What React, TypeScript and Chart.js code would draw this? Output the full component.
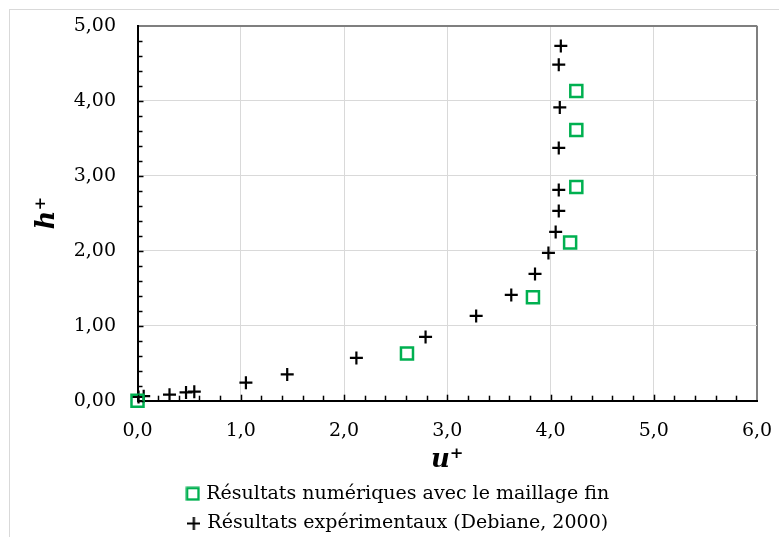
import React, { useEffect, useRef } from 'react';
import { Chart, registerables } from 'chart.js';

Chart.register(...registerables);

// Numerical results (fine mesh)
const numU = [0, 2.61, 3.83, 4.19, 4.25, 4.25, 4.25];
const numH = [0, 0.63, 1.38, 2.11, 2.85, 3.61, 4.13];

// Experimental results (Debiane, 2000)
const expU = [0.01, 0.06, 0.31, 0.47, 0.55, 1.05, 1.45, 2.12, 2.79, 3.28, 3.62, 3.85, 3.98, 4.05, 4.08, 4.08, 4.08, 4.09, 4.08, 4.10];
const expH = [0.05, 0.06, 0.08, 0.11, 0.12, 0.24, 0.35, 0.57, 0.85, 1.13, 1.41, 1.69, 1.97, 2.25, 2.53, 2.81, 3.37, 3.91, 4.48, 4.73];

const seriesLabels = ['Résultats numériques avec le maillage fin', 'Résultats expérimentaux (Debiane, 2000)'];
const xTitle = 'u⁺';
const yTitle = 'h⁺';
const xMin = 0, xMax = 6, xStep = 1;
const yMin = 0, yMax = 5, yStep = 1;

const FONT = "'DejaVu Serif', serif";
const GREEN = '#00b050';

function makeSquareIcon(): HTMLCanvasElement {
  const c = document.createElement('canvas');
  c.width = 15; c.height = 15;
  const g = c.getContext('2d')!;
  g.strokeStyle = GREEN;
  g.lineWidth = 2.5;
  g.strokeRect(1.75, 1.75, 11.5, 11.5);
  return c;
}

function makeCrossIcon(): HTMLCanvasElement {
  const c = document.createElement('canvas');
  c.width = 13; c.height = 13;
  const g = c.getContext('2d')!;
  g.strokeStyle = '#000';
  g.lineWidth = 2.2;
  g.beginPath();
  g.moveTo(0, 6.5); g.lineTo(13, 6.5);
  g.moveTo(6.5, 0); g.lineTo(6.5, 13);
  g.stroke();
  return c;
}

export default function App() {
  const ref = useRef<HTMLCanvasElement>(null);

  useEffect(() => {
    const canvas = ref.current;
    if (!canvas) return;

    const legendIcons = [makeSquareIcon(), makeCrossIcon()];

    const decor = {
      id: 'decor',
      beforeDraw(chart: any) {
        const ctx = chart.ctx;
        ctx.save();
        ctx.strokeStyle = '#d9d9d9';
        ctx.lineWidth = 1;
        ctx.strokeRect(9.5, 9.5, 1000, 1000);
        ctx.restore();
      },
      afterDraw(chart: any) {
        const ctx = chart.ctx;
        const x = chart.scales.x;
        const y = chart.scales.y;
        ctx.save();
        ctx.strokeStyle = '#000';
        ctx.lineWidth = 1.5;
        const nx = Math.round((xMax - xMin) / 0.2);
        for (let i = 0; i < nx; i++) {
          const px = Math.round(x.getPixelForValue(xMin + i * 0.2)) + 0.5;
          const len = i % 5 === 0 ? 6 : 5;
          ctx.beginPath();
          ctx.moveTo(px, y.bottom);
          ctx.lineTo(px, y.bottom - len);
          ctx.stroke();
        }
        const ny = Math.round((yMax - yMin) / 0.2);
        for (let i = 0; i < ny; i++) {
          const py = Math.round(y.getPixelForValue(yMin + i * 0.2)) + 0.5;
          const len = i % 5 === 0 ? 6 : 5;
          ctx.beginPath();
          ctx.moveTo(x.left, py);
          ctx.lineTo(x.left + len, py);
          ctx.stroke();
        }
        ctx.restore();
      },
    };

    const chart = new Chart(canvas, {
      type: 'scatter',
      data: {
        datasets: [
          {
            label: seriesLabels[0],
            data: numU.map((u, i) => ({ x: u, y: numH[i] })),
            pointStyle: 'rect',
            pointRadius: 8.5,
            borderColor: GREEN,
            backgroundColor: 'rgba(0,0,0,0)',
            pointBorderColor: GREEN,
            pointBackgroundColor: 'rgba(0,0,0,0)',
            borderWidth: 2.5,
            pointBorderWidth: 2.5,
            clip: false,
          },
          {
            label: seriesLabels[1],
            data: expU.map((u, i) => ({ x: u, y: expH[i] })),
            pointStyle: 'cross',
            pointRadius: 6.5,
            borderColor: '#000',
            backgroundColor: '#000',
            pointBorderColor: '#000',
            borderWidth: 2.2,
            pointBorderWidth: 2.2,
            clip: false,
          },
        ],
      },
      options: {
        animation: false,
        responsive: false,
        devicePixelRatio: 1,
        layout: { padding: { left: 41, right: 22, top: 25.7, bottom: 0 } },
        plugins: {
          legend: {
            position: 'bottom',
            labels: {
              usePointStyle: true,
              boxWidth: 8,
              boxHeight: 12,
              padding: 10.7,
              color: '#000',
              font: { family: FONT, size: 19 },
              generateLabels: (ch: any) => {
                const items = Chart.defaults.plugins.legend.labels.generateLabels(ch);
                return items.map((it: any, i: number) => ({ ...it, pointStyle: legendIcons[i] }));
              },
            },
          },
          tooltip: { enabled: false },
        },
        scales: {
          x: {
            type: 'linear',
            min: xMin,
            max: xMax,
            afterFit(s: any) { s.height = 72.9; s.paddingLeft = 0; s.paddingRight = 0; },
            ticks: {
              stepSize: xStep,
              maxRotation: 0,
              color: '#000',
              padding: 19,
              font: { family: FONT, size: 19 },
              callback: (v: any) => Number(v).toFixed(1).replace('.', ','),
            },
            grid: {
              drawTicks: false,
              color: (c: any) => (c.tick && c.tick.value === xMax ? '#7f7f7f' : '#d9d9d9'),
              lineWidth: (c: any) => (c.tick && c.tick.value === xMax ? 2 : 1),
            },
            border: { color: '#000', width: 2 },
            title: {
              display: true,
              text: xTitle,
              color: '#000',
              padding: 0,
              font: { family: FONT, size: 26, weight: 'bold', style: 'italic', lineHeight: 1.0 },
            },
          },
          y: {
            type: 'linear',
            min: yMin,
            max: yMax,
            afterFit(s: any) { s.width = 96.5; s.paddingTop = 0; s.paddingBottom = 0; },
            ticks: {
              stepSize: yStep,
              color: '#000',
              padding: 21.5,
              font: { family: FONT, size: 19 },
              callback: (v: any) => Number(v).toFixed(2).replace('.', ','),
            },
            grid: {
              drawTicks: false,
              color: (c: any) => (c.tick && c.tick.value === yMax ? '#7f7f7f' : '#d9d9d9'),
              lineWidth: (c: any) => (c.tick && c.tick.value === yMax ? 2 : 1),
            },
            border: { color: '#000', width: 2 },
            title: {
              display: true,
              text: yTitle,
              color: '#000',
              padding: 0,
              font: { family: FONT, size: 26, weight: 'bold', style: 'italic', lineHeight: 0.47 },
            },
          },
        },
      },
      plugins: [decor],
    } as any);

    return () => chart.destroy();
  }, []);

  return (
    <div style={{ position: 'fixed', left: 0, top: 0, width: 779, height: 537, overflow: 'hidden', background: '#fff' }}>
      <canvas ref={ref} width={779} height={543} style={{ display: 'block', width: 779, height: 543 }} />
    </div>
  );
}
